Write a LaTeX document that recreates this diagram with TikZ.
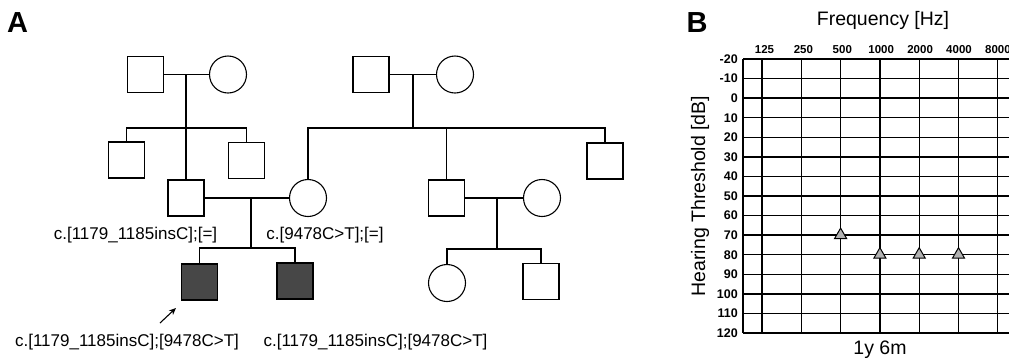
\documentclass[tikz,border=0pt]{standalone}
\usepackage{fontspec}
\setmainfont{Liberation Sans}
\usetikzlibrary{arrows.meta,shapes.geometric}
\begin{document}
\begin{tikzpicture}[x=1pt,y=-1pt,
  male/.style={draw, rectangle, minimum size=36pt, inner sep=0pt, line width=1.1pt},
  female/.style={draw, circle, minimum size=37pt, inner sep=0pt, line width=1.1pt},
  affected/.style={male, fill=black!72},
  rel/.style={line width=1.1pt},
  varlabel/.style={font=\fontsize{17}{20}\selectfont, inner sep=0pt},
  panel/.style={font=\bfseries\fontsize{29}{30}\selectfont, inner sep=0pt},
  axtitle/.style={font=\fontsize{19.5}{22}\selectfont, inner sep=0pt},
  ticklab/.style={font=\bfseries\fontsize{12.5}{14}\selectfont, inner sep=0pt, anchor=east},
  freqlab/.style={font=\bfseries\fontsize{11.5}{13}\selectfont, inner sep=0pt},
  hline/.style={line width=1.5pt},
  vline/.style={line width=1.2pt},
  marker/.style={draw, regular polygon, regular polygon sides=3, minimum size=14pt,
                 inner sep=0pt, fill=black!30, line width=1pt}
]
\clip (0,0) rectangle (1009,360);
\fill[white] (0,0) rectangle (1009,360);

% ---------- panel labels ----------
\node[panel] (labA) at (17.5,22.5) {A};
\node[panel] (labB) at (697,22.5) {B};

% ---------- pedigree: generation I ----------
\node[male]   (I1) at (145.5,74.5) {};
\node[female] (I2) at (228,74.5) {};
\node[male]   (I3) at (371,74.5) {};
\node[female] (I4) at (455,74.5) {};

% ---------- generation II ----------
\node[male]   (II1) at (126.5,160) {};
\node[male]   (II2) at (186,198) {};
\node[male]   (II3) at (246.5,160.5) {};
\node[female] (II4) at (308,198) {};
\node[male]   (II5) at (446.5,198) {};
\node[male]   (II6) at (605,161) {};
\node[female] (II7) at (542,198) {};

% ---------- generation III ----------
\node[affected] (III1) at (199.5,282) {};
\node[affected] (III2) at (295,281) {};
\node[female]   (III3) at (447,283) {};
\node[male]     (III4) at (541,281.5) {};

% ---------- junction points ----------
\coordinate (m1) at (186,74.5);
\coordinate (s1) at (186,128);
\coordinate (m2) at (413,74.5);
\coordinate (s2) at (413,128);
\coordinate (s2b) at (446.5,128);
\coordinate (m3) at (251,198);
\coordinate (s3) at (251,248);
\coordinate (m4) at (497,198);
\coordinate (s4) at (497,249);

% ---------- relationship lines ----------
\draw[rel] (I1) -- (I2);
\draw[rel] (m1) -- (s1) -- (II2);
\draw[rel] (II1.north) |- (s1) -| (II3.north);

\draw[rel] (I3) -- (I4);
\draw[rel] (m2) -- (s2);
\draw[rel] (II4.north) |- (s2) -| (II6.north);
\draw[rel] (s2b) -- (II5.north);

\draw[rel] (II2) -- (II4);
\draw[rel] (m3) -- (s3);
\draw[rel] (III1.north) |- (s3) -| (III2.north);

\draw[rel] (II5) -- (II7);
\draw[rel] (m4) -- (s4);
\draw[rel] (III3.north) |- (s4) -| (III4.north);

% ---------- genotypes ----------
\node[varlabel] (g1) at (135.5,235) {c.[1179\_1185insC];[=]};
\node[varlabel] (g2) at (325,235) {c.[9478C>T];[=]};
\node[varlabel] (g3) at (127,342) {c.[1179\_1185insC];[9478C>T]};
\node[varlabel] (g4) at (375.5,342) {c.[1179\_1185insC];[9478C>T]};

% proband arrow
\coordinate (pt) at (160,323);
\coordinate (ph) at (176,308);
\draw[line width=1.1pt, -{Stealth[length=7pt,width=6pt]}] (pt) -- (ph);

% ---------- audiogram grid ----------
\foreach \k in {0,...,14}
  \draw[hline] (743,{59+19.57*\k}) -- (1012,{59+19.57*\k});
\draw[vline] (743,59) -- (743,333);
\foreach \j in {0,...,6}
  \draw[vline] ({762+39.3*\j},59) -- ({762+39.3*\j},333);

% axis labels
\foreach \v [count=\k from 0] in {-20,-10,0,10,20,30,40,50,60,70,80,90,100,110,120}
  \node[ticklab] (db\k) at (738,{59+19.57*\k}) {\v};
\foreach \f [count=\j from 0] in {125,250,500,1000,2000,4000,8000}
  \node[freqlab] (hz\j) at ({764.5+38.9*\j},50) {\f};

\node[axtitle] (ftitle) at (883,20) {Frequency [Hz]};
\node[axtitle, rotate=90] (ytitle) at (700,196) {Hearing Threshold [dB]};
\node[axtitle] (age) at (880,350) {1y 6m};

% thresholds
\node[marker] (t500)  at (840.6,235.1) {};
\node[marker] (t1000) at (879.9,254.7) {};
\node[marker] (t2000) at (919.2,254.7) {};
\node[marker] (t4000) at (958.5,254.7) {};
\end{tikzpicture}
\end{document}
